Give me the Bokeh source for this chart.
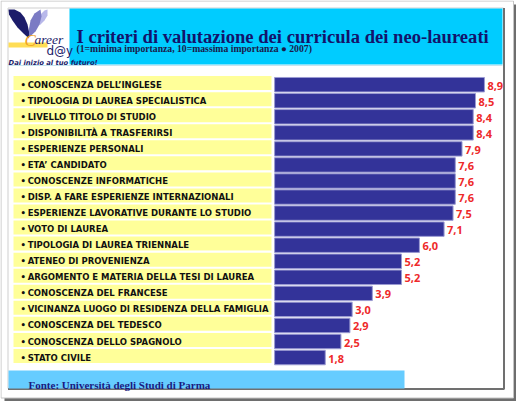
from bokeh.plotting import figure
from bokeh.models import Range1d, ColumnDataSource
from bokeh.core.properties import value
from bokeh.embed import file_html
from bokeh.resources import INLINE

# --- data -----------------------------------------------------------------
criteria = [
    "CONOSCENZA DELL\u2019INGLESE",
    "TIPOLOGIA DI LAUREA SPECIALISTICA",
    "LIVELLO TITOLO DI STUDIO",
    "DISPONIBILIT\u00c0 A TRASFERIRSI",
    "ESPERIENZE PERSONALI",
    "ETA\u2019 CANDIDATO",
    "CONOSCENZE INFORMATICHE",
    "DISP. A FARE ESPERIENZE INTERNAZIONALI",
    "ESPERIENZE LAVORATIVE DURANTE LO STUDIO",
    "VOTO DI LAUREA",
    "TIPOLOGIA DI LAUREA TRIENNALE",
    "ATENEO DI PROVENIENZA",
    "ARGOMENTO E MATERIA DELLA TESI DI LAUREA",
    "CONOSCENZA DEL FRANCESE",
    "VICINANZA LUOGO DI RESIDENZA DELLA FAMIGLIA",
    "CONOSCENZA DEL TEDESCO",
    "CONOSCENZA DELLO SPAGNOLO",
    "STATO CIVILE",
]
scores = [8.9, 8.5, 8.4, 8.4, 7.9, 7.6, 7.6, 7.6, 7.5, 7.1, 6.0, 5.2, 5.2,
          3.9, 3.0, 2.9, 2.5, 1.8]

title = "I criteri di valutazione dei curricula dei neo-laureati"
subtitle = "(1=minima importanza, 10=massima importanza \u25cf 2007)"
source = "Fonte: Universit\u00e0 degli Studi di Parma"

# --- canvas ---------------------------------------------------------------
W, H = 516, 401
# pixel-like base ranges for the page furniture (y grows downwards)
p = figure(width=W, height=H, x_range=Range1d(0, W), y_range=Range1d(H, 0),
           x_axis_type=None, y_axis_type=None, min_border=0,
           toolbar_location=None, output_backend="svg",
           outline_line_color=None, background_fill_color="white",
           border_fill_color="white")
p.grid.visible = False

# score scale (px = 284.4 + 22.42 * score) and row scale (16.05 px per row)
SCORE_PX0, SCORE_PX = 284.4, 22.42
ROW_PX0, ROW_PX = 84.2, 16.05
p.extra_x_ranges = {"score": Range1d(-SCORE_PX0 / SCORE_PX,
                                     (W - SCORE_PX0) / SCORE_PX)}
p.extra_y_ranges = {"rows": Range1d((H - ROW_PX0) / ROW_PX, -ROW_PX0 / ROW_PX)}
BAR_FLOOR = -0.46

rows = list(range(len(criteria)))
src = ColumnDataSource(dict(
    row=rows,
    band_row=[r - 0.1 for r in rows],
    label=["\u2022\u2009" + c for c in criteria],
    score=scores,
    score_text=[f"{s:.1f}".replace(".", ",") for s in scores],
))

# outer page frame with drop shadow
p.quad(left=[4], right=[516], top=[4], bottom=[401], fill_color="#6e6e6e",
       line_color=None)
p.quad(left=[0.5], right=[513], top=[0.5], bottom=[397.5], fill_color="white",
       line_color="#c4c4c4", line_width=1)

# inner panel
p.quad(left=[7.5], right=[503], top=[7.5], bottom=[388], fill_color="white",
       line_color="#cfcfcf", line_width=1)
p.line(x=[503.5, 503.5, 7.5], y=[7.5, 388.5, 388.5], line_color="#707070",
       line_width=2)

# heading banner
p.quad(left=[69], right=[502], top=[8], bottom=[64], fill_color="#00ccff",
       line_color=None)
p.line(x=[8, 502], y=[65, 65], line_color="#c6e4ee", line_width=1)

# logo
p.patch(x=[8, 14, 20, 24, 27, 28.5, 28.5, 23, 17, 12, 8.5],
        y=[9, 9, 12, 17, 24, 31, 38, 33, 27, 20, 14],
        fill_color="#1c1c6a", line_color=None)
p.patch(x=[47, 47, 44, 39, 38, 41, 44],
        y=[9, 15, 20, 25, 19, 13, 10],
        fill_color="#b8b8ea", line_color=None)
p.patch(x=[28.5, 28.5, 30, 34, 40, 41, 39, 35],
        y=[37, 28, 20, 13, 9, 16, 24, 31],
        fill_color="#7b7bc4", line_color=None)
p.quad(left=[8], right=[47], top=[42], bottom=[47], fill_color="#ffdd55",
       line_color=None)
p.text(x=[24], y=[40], text=["C"], text_font=value("Liberation Serif"),
       text_font_style="italic", text_font_size="17px", text_color="#f0a020",
       text_baseline="alphabetic")
p.text(x=[34], y=[39], text=["areer"], text_font=value("Liberation Serif"),
       text_font_style="italic", text_font_size="13.5px", text_color="#1c1c6a",
       text_baseline="alphabetic")
p.text(x=[46], y=[50], text=["d@y"], text_font=value("DejaVu Sans"),
       text_font_size="12px", text_color="#1c1c6a", text_baseline="alphabetic")
p.text(x=[8], y=[62], text=["Dai inizio al tuo futuro!"],
       text_font=value("DejaVu Sans"), text_font_style="bold italic",
       text_font_size="6.8px", text_color="#1c1c6a", text_baseline="alphabetic")

p.text(x=[76], y=[36], text=[title], text_font=value("Liberation Serif"),
       text_font_style="bold", text_font_size="18.6px", text_color="#13136b",
       text_baseline="alphabetic")
p.text(x=[76], y=[48], text=[subtitle], text_font=value("Liberation Serif"),
       text_font_style="bold", text_font_size="9.7px", text_color="#1a1a4a",
       text_baseline="alphabetic")

# label bands and criteria names
p.hbar(y="band_row", left=13, right=271, height=0.87, source=src,
       y_range_name="rows", fill_color="#ffff99", line_color=None)
p.text(x=20, y="row", text="label", source=src, y_range_name="rows",
       text_font=value("DejaVu Sans"), text_font_style="bold",
       text_font_size="8.5px", text_color="#111111", text_baseline="middle")

# score bars and their values
p.hbar(y="row", left=BAR_FLOOR, right="score", height=0.9, source=src,
       x_range_name="score", y_range_name="rows", fill_color="#333399",
       line_color="#9b9bd2", line_width=1)
p.text(x="score", y="row", text="score_text", source=src,
       x_range_name="score", y_range_name="rows", x_offset=3, y_offset=1,
       text_font=value("Open Sans"), text_font_style="bold",
       text_font_size="11px", text_color="#ee2a2a", text_baseline="middle")

# source footer
p.quad(left=[8], right=[404], top=[370], bottom=[388], fill_color="#66ccff",
       line_color=None)
p.text(x=[28], y=[384.5], text=[source], text_font=value("Liberation Serif"),
       text_font_style="bold", text_font_size="11px", text_color="#1a1a80",
       text_baseline="alphabetic")

open("out.html", "w").write(file_html(p, INLINE))
